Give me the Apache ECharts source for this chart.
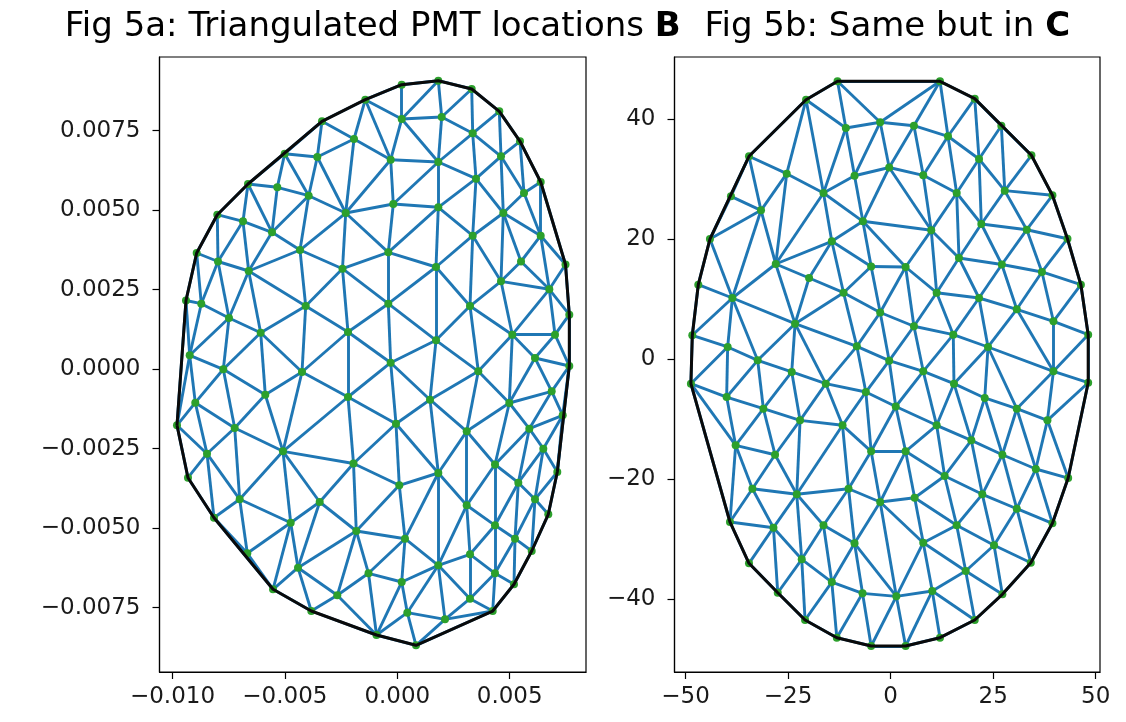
<!DOCTYPE html>
<html>
<head>
<meta charset="utf-8">
<script src="https://cdn.jsdelivr.net/npm/echarts@6/dist/echarts.min.js"></script>
<style>
  html, body { margin: 0; padding: 0; background: #fff; }
  #chart { width: 1126px; height: 722px; }
</style>
</head>
<body>
<div id="chart"></div>
<script>
// PMT positions in coordinate system B (metres-like units)
const pmtB = [
  [-0.001424, 0.008475], [-0.003350, 0.007796], [-0.001926, 0.007239], [-0.005009, 0.006777],
  [-0.003559, 0.006673], [-0.006641, 0.005824], [-0.005338, 0.005720], [-0.003941, 0.005456],
  [-0.002295, 0.004912], [-0.008007, 0.004859], [-0.006864, 0.004651], [-0.005574, 0.004305],
  [-0.004328, 0.003748], [-0.008924, 0.003654], [-0.007976, 0.003387], [-0.006610, 0.003088],
  [-0.002438, 0.003160], [0.000196, 0.008947], [0.001824, 0.009073], [0.003310, 0.008811],
  [0.000196, 0.007868], [0.001975, 0.007931], [0.004537, 0.008110], [0.003354, 0.007418],
  [0.005458, 0.007167], [-0.000294, 0.006588], [0.001824, 0.006516], [0.004613, 0.006695],
  [0.003501, 0.005991], [0.006379, 0.005887], [0.005636, 0.005541], [-0.000178, 0.005195],
  [0.001824, 0.005091], [0.004715, 0.004912], [0.003354, 0.004198], [0.006379, 0.004198],
  [-0.000400, 0.003676], [0.001722, 0.003214], [0.005503, 0.003387], [0.007482, 0.003293],
  [-0.009400, 0.002160], [-0.008719, 0.002060], [-0.007487, 0.001610], [-0.004075, 0.001987],
  [-0.006077, 0.001148], [-0.002193, 0.001170], [-0.009235, 0.000437], [-0.007740, -0.000003],
  [-0.004239, -0.000088], [-0.005872, -0.000802], [-0.002193, -0.000874], [-0.008986, -0.001053],
  [-0.009800, -0.001764], [-0.007233, -0.001849], [-0.005085, -0.002582], [-0.001948, -0.002965],
  [-0.008465, -0.002657], [0.004613, 0.002764], [0.006762, 0.002513], [-0.000400, 0.002060],
  [0.003234, 0.001987], [0.007651, 0.001714], [0.001722, 0.000909], [0.005116, 0.001085],
  [0.007015, 0.001085], [-0.000294, 0.000204], [0.006125, 0.000352], [0.003603, -0.000066],
  [0.007651, 0.000101], [0.006868, -0.000695], [0.001455, -0.000959], [0.004982, -0.001063],
  [0.007358, -0.001450], [-0.000058, -0.001714], [0.003087, -0.001953], [0.005872, -0.001871],
  [0.006495, -0.002500], [0.004346, -0.002997], [0.001824, -0.003264], [0.007117, -0.003233],
  [-0.009311, -0.003412], [-0.007011, -0.004091], [-0.003452, -0.004176], [-0.008154, -0.004670],
  [-0.004742, -0.004827], [-0.001824, -0.005088], [-0.006673, -0.005789], [-0.004417, -0.006242],
  [-0.001281, -0.006418], [-0.005529, -0.006921], [-0.002669, -0.007110], [-0.003826, -0.007604],
  [-0.000925, -0.008359], [0.000089, -0.003651], [0.005383, -0.003569], [0.006125, -0.004091],
  [0.003087, -0.004280], [0.006717, -0.004563], [0.004346, -0.004909], [0.000343, -0.005330],
  [0.005236, -0.005330], [0.003234, -0.005821], [0.005979, -0.005717], [0.001824, -0.006167],
  [0.004346, -0.006418], [0.000196, -0.006692], [0.005191, -0.006764], [0.003234, -0.007217],
  [0.000445, -0.007657], [0.002122, -0.007865], [0.004244, -0.007604], [0.000832, -0.008683]
];

// The same PMTs in coordinate system C
const pmtC = [
  [-12.94, 46.29], [-20.61, 43.23], [-10.91, 38.52], [-2.54, 39.47], [-34.52, 33.81], [-25.32, 30.91],
  [-8.79, 30.57], [-0.34, 31.94], [-38.92, 27.14], [-16.36, 27.69], [-31.59, 24.81], [-6.76, 22.98],
  [-44.04, 20.03], [-14.33, 19.65], [-28.00, 15.87], [-4.74, 15.45],
  [12.04, 46.29], [20.51, 43.40], [5.69, 38.90], [13.99, 37.14], [27.00, 38.90], [7.96, 30.64],
  [21.56, 33.36], [34.33, 33.97], [16.11, 27.69], [27.83, 28.08], [39.45, 27.31], [9.91, 21.48],
  [22.12, 22.53], [33.20, 21.58], [43.12, 20.08], [3.66, 15.37], [16.67, 16.87], [27.12, 15.79],
  [36.89, 14.54],
  [-46.88, 12.42], [-38.57, 10.21], [-19.87, 13.54], [-11.47, 11.09], [-23.29, 5.93], [-2.54, 7.79],
  [-48.34, 4.00], [-39.72, 2.05], [-32.40, -0.17], [-8.23, 2.16], [-0.34, -0.23], [-24.10, -2.11],
  [-15.80, -4.06], [-48.68, -4.06], [-6.03, -5.45], [-39.97, -6.28], [-31.01, -8.23], [1.26, -7.86],
  [-22.07, -10.16], [-11.72, -10.99], [-37.77, -14.32], [-28.17, -15.89], [-4.74, -15.32],
  [46.39, 12.42], [11.23, 11.09], [21.56, 10.21], [30.76, 8.33], [39.70, 6.33], [5.69, 5.50],
  [15.28, 4.10], [23.75, 2.05], [48.17, 4.10], [7.96, -2.00], [39.70, -2.00], [15.45, -4.06],
  [48.17, -3.90], [22.95, -6.44], [30.76, -8.23], [38.23, -10.16], [11.23, -10.99], [19.68, -13.49],
  [3.66, -15.32], [27.25, -15.89], [35.40, -18.27], [13.18, -19.43], [43.29, -19.77],
  [-33.69, -21.55], [-22.88, -22.48], [-10.25, -21.55], [-2.54, -23.76], [-39.16, -27.09],
  [-28.56, -28.04], [-16.36, -27.64], [-8.79, -30.64], [-34.52, -33.97], [-21.66, -33.31],
  [-14.33, -37.09], [-6.84, -38.97], [1.40, -39.47], [-27.51, -38.87], [-20.85, -43.41],
  [-13.11, -46.36], [-4.74, -47.74],
  [5.86, -23.05], [22.36, -22.48], [30.76, -24.88], [39.45, -27.31], [16.11, -27.64], [7.96, -30.54],
  [25.22, -30.97], [34.18, -33.87], [18.31, -35.25], [10.16, -38.58], [27.25, -39.13], [20.51, -43.41],
  [12.04, -46.36], [3.66, -47.74]
];

const ticksBX = [-0.010, -0.005, 0.000, 0.005];
const ticksBY = [-0.0075, -0.0050, -0.0025, 0.0000, 0.0025, 0.0050, 0.0075];
const ticksCX = [-50, -25, 0, 25, 50];
const ticksCY = [-40, -20, 0, 20, 40];

const titleText = ['Fig 5a: Triangulated PMT locations ', 'Fig 5b: Same but in '];
const titleBold = ['B', 'C'];

// Delaunay triangulation (Bowyer-Watson), returns unique edges as index pairs
function delaunayEdges(pts) {
  const n = pts.length;
  let minX = Infinity, minY = Infinity, maxX = -Infinity, maxY = -Infinity;
  pts.forEach(p => {
    minX = Math.min(minX, p[0]); maxX = Math.max(maxX, p[0]);
    minY = Math.min(minY, p[1]); maxY = Math.max(maxY, p[1]);
  });
  const cx = (minX + maxX) / 2, cy = (minY + maxY) / 2;
  const s = Math.max(maxX - minX, maxY - minY);
  const P = pts.map(p => [(p[0] - cx) / s, (p[1] - cy) / s]);
  const M = 1e4;
  P.push([-M, -M], [M, -M], [0, M]);
  function inCircle(t, d) {
    const a = P[t[0]], b = P[t[1]], c = P[t[2]];
    const adx = a[0] - d[0], ady = a[1] - d[1];
    const bdx = b[0] - d[0], bdy = b[1] - d[1];
    const cdx = c[0] - d[0], cdy = c[1] - d[1];
    const det = (adx * adx + ady * ady) * (bdx * cdy - cdx * bdy)
              - (bdx * bdx + bdy * bdy) * (adx * cdy - cdx * ady)
              + (cdx * cdx + cdy * cdy) * (adx * bdy - bdx * ady);
    const orient = (b[0] - a[0]) * (c[1] - a[1]) - (b[1] - a[1]) * (c[0] - a[0]);
    return orient > 0 ? det > 0 : det < 0;
  }
  let tris = [[n, n + 1, n + 2]];
  for (let i = 0; i < n; i++) {
    const keep = [], edgeCount = new Map();
    for (const t of tris) {
      if (inCircle(t, P[i])) {
        for (const [u, v] of [[t[0], t[1]], [t[1], t[2]], [t[2], t[0]]]) {
          const key = u < v ? u + ',' + v : v + ',' + u;
          edgeCount.set(key, (edgeCount.get(key) || 0) + 1);
        }
      } else keep.push(t);
    }
    edgeCount.forEach((cnt, key) => {
      if (cnt === 1) {
        const [u, v] = key.split(',').map(Number);
        keep.push([u, v, i]);
      }
    });
    tris = keep;
  }
  const edges = new Map();
  tris.filter(t => t[0] < n && t[1] < n && t[2] < n).forEach(t => {
    for (const [u, v] of [[t[0], t[1]], [t[1], t[2]], [t[2], t[0]]]) {
      const key = u < v ? u + ',' + v : v + ',' + u;
      edges.set(key, [Math.min(u, v), Math.max(u, v)]);
    }
  });
  return Array.from(edges.values());
}

// Convex hull (monotone chain), closed ring of points
function convexHull(pts) {
  const p = pts.slice().sort((a, b) => a[0] - b[0] || a[1] - b[1]);
  const cross = (o, a, b) => (a[0] - o[0]) * (b[1] - o[1]) - (a[1] - o[1]) * (b[0] - o[0]);
  const lower = [], upper = [];
  for (const q of p) {
    while (lower.length >= 2 && cross(lower[lower.length - 2], lower[lower.length - 1], q) <= 0) lower.pop();
    lower.push(q);
  }
  for (let i = p.length - 1; i >= 0; i--) {
    const q = p[i];
    while (upper.length >= 2 && cross(upper[upper.length - 2], upper[upper.length - 1], q) <= 0) upper.pop();
    upper.push(q);
  }
  upper.pop(); lower.pop();
  const ring = lower.concat(upper);
  ring.push(ring[0]);
  return ring;
}

const FONT = 'DejaVu Sans';
const minus = s => s.replace('-', '\u2212');
const fmt = d => v => minus((Math.abs(v) < 1e-12 ? 0 : v).toFixed(d));

const grids = [
  { left: 159.5, top: 57, width: 426.5, height: 615 },
  { left: 674.5, top: 57, width: 425.5, height: 615 }
];

function xAxisFor(idx, min, max, ticks, digits) {
  return {
    type: 'value', gridIndex: idx, min: min, max: max,
    axisLine: { show: true, onZero: false, lineStyle: { color: '#000', width: 1.2 } },
    splitLine: { show: false },
    axisTick: { show: true, customValues: ticks, length: 7, lineStyle: { color: '#000', width: 1.2 } },
    axisLabel: { customValues: ticks, formatter: fmt(digits), fontFamily: FONT, fontSize: 23, color: '#1a1a1a', margin: 14 }
  };
}
function yAxisFor(idx, min, max, ticks, digits) {
  return {
    type: 'value', gridIndex: idx, min: min, max: max,
    axisLine: { show: true, onZero: false, lineStyle: { color: '#000', width: 1.2 } },
    splitLine: { show: false },
    axisTick: { show: true, customValues: ticks, length: 7, lineStyle: { color: '#000', width: 1.2 } },
    axisLabel: { customValues: ticks, formatter: fmt(digits), fontFamily: FONT, fontSize: 23, color: '#1a1a1a', margin: 19 }
  };
}

function panelSeries(idx, pts) {
  const edges = delaunayEdges(pts);
  return [
    {
      type: 'lines', coordinateSystem: 'cartesian2d', xAxisIndex: idx, yAxisIndex: idx,
      polyline: false, silent: true, z: 2,
      lineStyle: { color: '#1f77b4', width: 2.9, opacity: 1 },
      data: edges.map(([i, j]) => ({ coords: [pts[i], pts[j]] }))
    },
    {
      type: 'scatter', xAxisIndex: idx, yAxisIndex: idx, z: 3, silent: true,
      symbol: 'circle', symbolSize: 8,
      itemStyle: { color: '#2ca02c', opacity: 1 },
      data: pts
    },
    {
      type: 'line', xAxisIndex: idx, yAxisIndex: idx, z: 4, silent: true,
      showSymbol: false, symbol: 'none',
      lineStyle: { color: '#0a0a0a', width: 3 },
      data: convexHull(pts)
    }
  ];
}

const chart = echarts.init(document.getElementById('chart'), null, { renderer: 'canvas' });
chart.setOption({
  animation: false,
  backgroundColor: '#fff',
  grid: grids.map(g => Object.assign({ show: true, borderColor: '#000', borderWidth: 1.2, backgroundColor: 'transparent', containLabel: false }, g)),
  xAxis: [
    xAxisFor(0, -0.010578, 0.008394, ticksBX, 3),
    xAxisFor(1, -52.68, 51.05, ticksCX, 0)
  ],
  yAxis: [
    yAxisFor(0, -0.009522, 0.009818, ticksBY, 4),
    yAxisFor(1, -52.07, 50.34, ticksCY, 0)
  ],
  graphic: grids.map((g, i) => ({
    type: 'text',
    x: g.left + g.width / 2,
    y: 27,
    style: {
      text: '{n|' + titleText[i] + '}{b|' + titleBold[i] + '}',
      textAlign: 'center',
      textVerticalAlign: 'middle',
      rich: {
        n: { fontFamily: FONT, fontSize: 34, fill: '#000', color: '#000' },
        b: { fontFamily: FONT, fontSize: 34, fontWeight: 'bold', fill: '#000', color: '#000' }
      }
    }
  })),
  series: panelSeries(0, pmtB).concat(panelSeries(1, pmtC))
});
</script>
</body>
</html>
